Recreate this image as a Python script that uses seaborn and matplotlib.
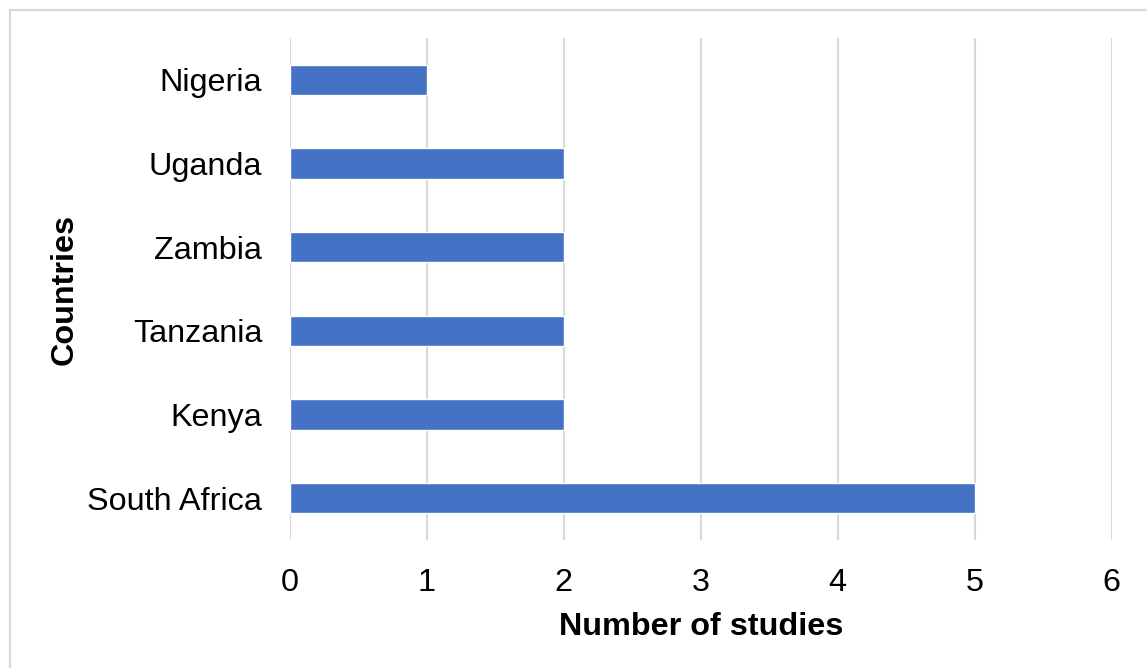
import pandas as pd
import matplotlib
matplotlib.use('Agg')
from matplotlib import pyplot as plt
from matplotlib.lines import Line2D
import seaborn as sns

countries = ['Nigeria', 'Uganda', 'Zambia', 'Tanzania', 'Kenya', 'South Africa']
studies = [1, 2, 2, 2, 2, 5]
x_ticks = [0, 1, 2, 3, 4, 5, 6]

sns.set_style('white')
plt.rcParams['font.family'] = ['Liberation Sans', 'DejaVu Sans']
plt.rcParams['text.color'] = 'black'
plt.rcParams['axes.labelcolor'] = 'black'

df = pd.DataFrame({'country': countries, 'studies': studies})

fig = plt.figure(figsize=(11.47, 6.68), dpi=100)
ax = fig.add_axes([290 / 1147, 1 - 540 / 668, (1111.5 - 290) / 1147, (540 - 38) / 668])

sns.barplot(data=df, x='studies', y='country', orient='h', color='#4472C4',
            saturation=1, width=0.36, ax=ax, zorder=3)

ax.set_xlim(0, 6)
ax.set_xticks(x_ticks)
ax.grid(axis='x', color='#d9d9d9', linewidth=1.5, zorder=0)
ax.set_axisbelow(True)
for s in ax.spines.values():
    s.set_visible(False)

ax.tick_params(axis='both', length=0, labelsize=23.3, colors='black')
ax.tick_params(axis='y', pad=20)
ax.tick_params(axis='x', pad=20)

ax.set_xlabel('Number of studies', fontsize=23.3, fontweight='bold', labelpad=10)
ax.set_ylabel('Countries', fontsize=23.3, fontweight='bold')
ax.yaxis.set_label_coords(-210 / (1111.5 - 290), 0.5)

# light chart border (left and top edges visible)
bx, by = 9.5 / 1147, 1 - 9.5 / 668
fig.add_artist(Line2D([bx, bx], [0, by], transform=fig.transFigure, color='#d9d9d9', lw=1.5))
fig.add_artist(Line2D([bx, 1], [by, by], transform=fig.transFigure, color='#d9d9d9', lw=1.5))

fig.savefig('out.png', dpi=100)
